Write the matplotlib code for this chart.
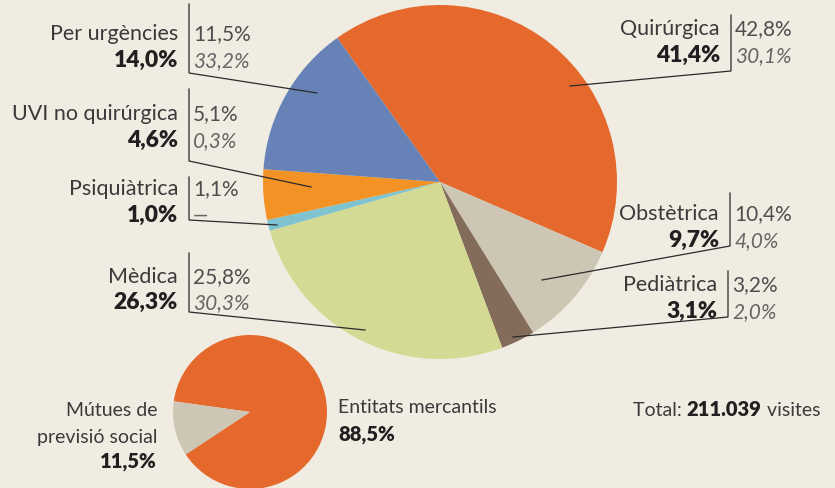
import matplotlib
matplotlib.use("Agg")
import matplotlib.pyplot as plt

W, H = 835, 489
BG = "#F0ECE2"

# big pie (clockwise from the top-left boundary)
sections = ["Quirúrgica", "Obstètrica", "Pediàtrica", "Mèdica",
            "Psiquiàtrica", "UVI no quirúrgica", "Per urgències"]
share_main = [41.4, 9.7, 3.1, 26.3, 1.0, 4.6, 14.0]
share_a = ["42,8%", "10,4%", "3,2%", "25,8%", "1,1%", "5,1%", "11,5%"]
share_b = ["30,1%", "4,0%", "2,0%", "30,3%", "—", "0,3%", "33,2%"]
colors = ["#E5692C", "#CEC6B4", "#836D5A", "#D4DA94",
          "#7EC3CF", "#F39326", "#6682B7"]

# small pie
payers = ["Entitats mercantils", "Mútues de\nprevisió social"]
payer_share = [88.5, 11.5]
payer_colors = ["#E5692C", "#CEC6B4"]
total_visits = "211.039"

plt.rcParams["font.family"] = ["Lato", "DejaVu Sans"]

fig = plt.figure(figsize=(W / 100, H / 100), dpi=100, facecolor=BG)
ax = fig.add_axes([0, 0, 1, 1])
ax.set_facecolor(BG)


def P(x, y):
    # pixel coords (top-left origin) -> data coords
    return x, H - y


def pct(v):
    return f"{v:.1f}%".replace(".", ",")


ax.pie(share_main, colors=colors, startangle=125.5, counterclock=False,
       center=P(440, 183), radius=177, wedgeprops=dict(linewidth=0))
ax.pie(payer_share, colors=payer_colors, startangle=172, counterclock=False,
       center=P(250, 413), radius=77, wedgeprops=dict(linewidth=0))

ax.set_xlim(0, W)
ax.set_ylim(0, H)
ax.set_aspect("equal")
ax.axis("off")

LBL = "#3A3A3A"
BOLD = "#231F20"
GREY = "#4E4E4E"
GREY_I = "#666666"
FS = 15.5
FSB = 16.5
FSS = 15

# label layout: (x of vertical rule, rule top, rule bottom, pointer end,
#                name baseline, bold baseline)
layout = {
    "Quirúrgica":        (731, 16, 72, (570, 87), 35, 62),
    "Obstètrica":        (730, 194, 247, (542, 281), 220, 247),
    "Pediàtrica":        (728, 272, 318, (513, 338), 291, 318),
    "Mèdica":            (189, 254, 313, (365, 331), 283, 309),
    "Psiquiàtrica":      (189, 178, 221, (277, 226), 195, 222),
    "UVI no quirúrgica": (189, 90, 162, (311, 188), 120, 147),
    "Per urgències":     (189, 5, 74, (317, 94), 40, 67),
}

for i, name in enumerate(sections):
    vx, top, bot, end, b1, b2 = layout[name]
    xs = [vx, vx, end[0]]
    ys = [top, bot, end[1]]
    ax.plot(xs, [H - y for y in ys], color="#2A2A2A", lw=0.9,
            solid_joinstyle="miter", zorder=5)
    xl = vx - 11
    xr = vx + 4
    ax.text(*P(xl, b1), name, ha="right", va="baseline", fontsize=FS,
            color=LBL)
    ax.text(*P(xl, b2), pct(share_main[i]), ha="right", va="baseline",
            fontsize=FSB, color=BOLD, fontweight="heavy")
    ax.text(*P(xr, b1), share_a[i], ha="left", va="baseline", fontsize=FSS,
            color=GREY)
    ax.text(*P(xr, b2), share_b[i], ha="left", va="baseline", fontsize=FSS,
            color=GREY_I, style="italic")

# small pie labels
SFS = 14
ax.text(*P(338, 413), payers[0], ha="left", va="baseline", fontsize=SFS,
        color=LBL)
ax.text(*P(338, 441), pct(payer_share[0]), ha="left", va="baseline",
        fontsize=SFS + 0.5, color=BOLD, fontweight="heavy")
ax.text(*P(157, 416), payers[1].split("\n")[0], ha="right", va="baseline",
        fontsize=SFS, color=LBL)
ax.text(*P(157, 443), payers[1].split("\n")[1], ha="right", va="baseline",
        fontsize=SFS, color=LBL)
ax.text(*P(157, 468), pct(payer_share[1]), ha="right", va="baseline",
        fontsize=SFS + 0.5, color=BOLD, fontweight="heavy")

t1 = ax.text(*P(633, 416), "Total: ", ha="left", va="baseline",
             fontsize=SFS, color=LBL)
fig.canvas.draw()
x2 = t1.get_window_extent().x1
t2 = ax.text(x2, H - 416, total_visits, ha="left", va="baseline",
             fontsize=SFS + 0.5, color=BOLD, fontweight="heavy")
fig.canvas.draw()
x3 = t2.get_window_extent().x1
ax.text(x3, H - 416, " visites", ha="left", va="baseline",
        fontsize=SFS, color=LBL)

fig.savefig("out.png", dpi=100, facecolor=BG)
